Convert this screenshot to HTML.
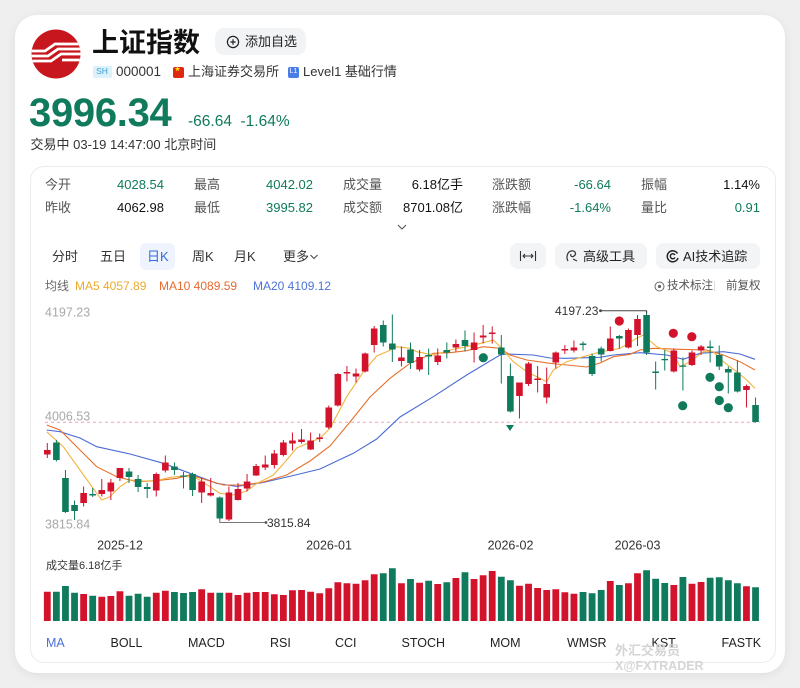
<!DOCTYPE html>
<html><head><meta charset="utf-8">
<style>
*{margin:0;padding:0;box-sizing:border-box}
html,body{width:800px;height:688px;overflow:hidden}
body{background:#efefef;font-family:"Liberation Sans","Noto Sans CJK SC",sans-serif;color:#222;position:relative}
.a{position:absolute;white-space:nowrap}
.card{position:absolute;left:15px;top:15px;width:770px;height:658px;background:#fff;border-radius:22px;box-shadow:0 2px 10px rgba(0,0,0,0.07)}
.panel{position:absolute;left:30px;top:166px;width:746px;height:497px;border:1px solid #ebebeb;border-radius:14px;background:#fff}
.lb{font-size:13px;line-height:16px;color:#555}
.v{font-size:13px;line-height:16px;text-align:right}
.g{color:#0f7a5c}
.k{color:#111}
.tab{font-size:13px;line-height:16px;color:#333;top:249px}
.btn{position:absolute;top:243px;height:26px;background:#f3f4f6;border-radius:8px}
.ind{font-size:12.5px;line-height:16px;color:#222;top:635px}
</style></head><body>
<div class="card"></div>

<!-- logo -->
<svg class="a" style="left:30.5px;top:29px" width="50" height="50" viewBox="0 0 50 50">
<defs><clipPath id="cl"><circle cx="25" cy="25" r="24.5"/></clipPath></defs>
<circle cx="25" cy="25" r="24.5" fill="#c8161e"/>
<g clip-path="url(#cl)" stroke="#fff" stroke-width="2.7" fill="none">
<path d="M0 22 H14 L24 15 H50"/>
<path d="M0 27 H17 L27 20 H50"/>
<path d="M0 32 H20 L30 25 H50"/>
<path d="M31 31 H50"/>
</g>
</svg>

<div class="a" style="left:92px;top:28px;font-size:27px;line-height:30px;font-weight:bold;color:#111">上证指数</div>
<div class="a" style="left:215px;top:28px;width:91px;height:27px;background:#f2f3f5;border-radius:9px"></div>
<svg class="a" style="left:226px;top:35px" width="14" height="14" viewBox="0 0 14 14"><circle cx="7" cy="7" r="5.6" fill="none" stroke="#222" stroke-width="1.2"/><path d="M7 4.3V9.7M4.3 7H9.7" stroke="#222" stroke-width="1.2"/></svg>
<div class="a" style="left:245px;top:34px;font-size:13px;line-height:16px;color:#222">添加自选</div>

<div class="a" style="left:92.5px;top:66px;width:19px;height:11.5px;background:#dcf1fa;border-radius:2px;font-size:8.5px;line-height:11.5px;text-align:center;color:#38a0d6">SH</div>
<div class="a" style="left:116px;top:64px;font-size:13.5px;line-height:16px;color:#333">000001</div>
<div class="a" style="left:173px;top:67px;width:10.5px;height:10.5px;background:#de2910;border-radius:2px"></div>
<div class="a" style="left:174.5px;top:67px;font-size:6px;line-height:7px;color:#ffde00">★</div>
<div class="a" style="left:188px;top:64px;font-size:13px;line-height:16px;color:#333">上海证券交易所</div>
<div class="a" style="left:288px;top:67px;width:11px;height:10.5px;background:#4a7de6;border-radius:2px;font-size:7px;line-height:10.5px;text-align:center;color:#fff">L1</div>
<div class="a" style="left:303px;top:64px;font-size:13px;line-height:16px;color:#333">Level1 基础行情</div>

<div class="a" style="left:29px;top:93px;font-size:40px;line-height:40px;font-weight:bold;color:#0f7a5c;letter-spacing:-0.3px">3996.34</div>
<div class="a" style="left:188px;top:113.5px;font-size:15.5px;line-height:16px;color:#0f7a5c">-66.64</div>
<div class="a" style="left:240.5px;top:113.5px;font-size:15.5px;line-height:16px;color:#0f7a5c">-1.64%</div>
<div class="a" style="left:30.5px;top:136.5px;font-size:13px;line-height:16px;color:#333">交易中 03-19 14:47:00 北京时间</div>

<div class="panel"></div>

<!-- stats -->
<div class="a lb" style="left:45px;top:177px">今开</div>
<div class="a v g" style="right:636px;top:177px">4028.54</div>
<div class="a lb" style="left:194px;top:177px">最高</div>
<div class="a v g" style="right:487px;top:177px">4042.02</div>
<div class="a lb" style="left:343px;top:177px">成交量</div>
<div class="a v k" style="right:337px;top:177px">6.18亿手</div>
<div class="a lb" style="left:492px;top:177px">涨跌额</div>
<div class="a v g" style="right:189px;top:177px">-66.64</div>
<div class="a lb" style="left:641px;top:177px">振幅</div>
<div class="a v k" style="right:40px;top:177px">1.14%</div>

<div class="a lb" style="left:45px;top:200px">昨收</div>
<div class="a v k" style="right:636px;top:200px">4062.98</div>
<div class="a lb" style="left:194px;top:200px">最低</div>
<div class="a v g" style="right:487px;top:200px">3995.82</div>
<div class="a lb" style="left:343px;top:200px">成交额</div>
<div class="a v k" style="right:337px;top:200px">8701.08亿</div>
<div class="a lb" style="left:492px;top:200px">涨跌幅</div>
<div class="a v g" style="right:189px;top:200px">-1.64%</div>
<div class="a lb" style="left:641px;top:200px">量比</div>
<div class="a v g" style="right:40px;top:200px">0.91</div>

<svg class="a" style="left:396px;top:223px" width="12" height="8" viewBox="0 0 12 8"><path d="M2 2L6 6L10 2" fill="none" stroke="#555" stroke-width="1.1"/></svg>

<!-- tabs -->
<div class="a" style="left:140px;top:243px;width:35px;height:27px;background:#eef3fd;border-radius:6px"></div>
<div class="a tab" style="left:52px">分时</div>
<div class="a tab" style="left:100px">五日</div>
<div class="a tab" style="left:147px;color:#2f6bd8">日K</div>
<div class="a tab" style="left:192px">周K</div>
<div class="a tab" style="left:234px">月K</div>
<div class="a tab" style="left:283px">更多</div>
<svg class="a" style="left:309px;top:253px" width="10" height="8" viewBox="0 0 10 8"><path d="M1.5 2L5 5.5L8.5 2" fill="none" stroke="#444" stroke-width="1"/></svg>

<div class="btn" style="left:510px;width:36px"></div>
<svg class="a" style="left:519px;top:250px" width="18" height="12" viewBox="0 0 18 12"><path d="M1.5 1V11M16.5 1V11M4 6H14M6 4L4 6L6 8M12 4L14 6L12 8" fill="none" stroke="#333" stroke-width="1.1"/></svg>
<div class="btn" style="left:555px;width:92px"></div>
<svg class="a" style="left:565px;top:249px" width="14" height="14" viewBox="0 0 14 14"><path d="M3 12C1 9 2 3 6 2C10 1 12 5 9 7C7 8.5 5 7 6 5M8 10L12 12" fill="none" stroke="#333" stroke-width="1.2"/></svg>
<div class="a" style="left:583px;top:249px;font-size:13px;line-height:16px;color:#222">高级工具</div>
<div class="btn" style="left:656px;width:104px"></div>
<svg class="a" style="left:666px;top:249px" width="14" height="14" viewBox="0 0 14 14"><path d="M11.5 4.5A5.5 5.5 0 1 0 12 9" fill="none" stroke="#222" stroke-width="1.5"/><path d="M9 6A2.5 2.5 0 1 0 9 8.5" fill="none" stroke="#222" stroke-width="1.4"/></svg>
<div class="a" style="left:683px;top:249px;font-size:13px;line-height:16px;color:#222">AI技术追踪</div>

<!-- legend -->
<div class="a" style="left:45px;top:278px;font-size:12px;line-height:16px;color:#666">均线</div>
<div class="a" style="left:75px;top:278px;font-size:12px;line-height:16px;color:#eeaa2e">MA5 4057.89</div>
<div class="a" style="left:159px;top:278px;font-size:12px;line-height:16px;color:#e8692e">MA10 4089.59</div>
<div class="a" style="left:253px;top:278px;font-size:12px;line-height:16px;color:#4c74d6">MA20 4109.12</div>
<svg class="a" style="left:654px;top:281px" width="11" height="11" viewBox="0 0 11 11"><circle cx="5.5" cy="5.5" r="4.5" fill="none" stroke="#666" stroke-width="1"/><circle cx="5.5" cy="5.5" r="1.6" fill="#666"/></svg>
<div class="a" style="left:667px;top:278px;font-size:11.5px;line-height:16px;color:#555">技术标注</div>
<div class="a" style="left:714px;top:281px;width:1px;height:10px;background:#ddd"></div>
<div class="a" style="left:726px;top:278px;font-size:11.5px;line-height:16px;color:#555">前复权</div>

<!-- chart -->
<svg class="a" style="left:0;top:0" width="800" height="688" viewBox="0 0 800 688">
<g font-family="Liberation Sans, sans-serif">
<text x="45" y="316.5" font-size="12.5" fill="#a8a8a8">4197.23</text>
<text x="45" y="420.5" font-size="12.5" fill="#a8a8a8">4006.53</text>
<text x="45" y="528.5" font-size="12.5" fill="#a8a8a8">3815.84</text>
</g>
<line x1="45" y1="422.3" x2="760" y2="422.3" stroke="#f0a3ab" stroke-width="1" stroke-dasharray="3 3"/>

<polyline fill="none" stroke="#4a6bd6" stroke-width="1.1" points="46.7,430 60,431.7 80,438 96.7,446.7 130,454 163.3,463.3 190,473.3 216.7,483.3 236.7,486.5 263.3,482.5 293.3,475.5 320,469 353.3,453.3 376.7,439 400,417 433.3,396.7 466.7,375 500,355 506.7,354 533.3,355 550,358 566.7,358.3 600,357.3 613.3,355 640,352.7 666.7,355 683.3,359.3 700,353.3 723.3,351.7 740,354 755,359.3"/>
<polyline fill="none" stroke="#e8702c" stroke-width="1.1" points="46.7,425 60,430 80,450 96.7,466.7 116.7,476.7 136.7,481.7 156.7,480.7 176.7,478.3 190,475 206.7,480 223.3,485 243.3,485 263.3,482 286.7,475 310,461 330,446 350,422 370,397 390,378.3 410,363.3 433.3,353.3 450,352.7 466.7,350.7 483.3,346.7 500,348.3 510,355 526.7,360 550,363.3 566.7,365 586.7,367 600,363 613.3,356.7 630,354.3 640,350 653.3,348.3 680,349.3 706.7,350 723.3,355 740,361.7 755,370"/>
<polyline fill="none" stroke="#f2b440" stroke-width="1.1" points="46.7,431.7 63.3,446.7 80,470 96.7,493.3 101.7,500 110,496.7 120,486.7 130,480 143.3,481 156.7,480.7 170,477.3 183.3,476 196.7,478.3 210,486.7 220,493.3 233.3,495 246.7,491 256,484 273.3,475 285,462 296.7,448 313,441 320,438.3 330,428.3 346.7,396.7 363.3,372 376.7,356 386.7,351.7 396.7,346.7 410,348.3 416.7,351.7 433.3,355 450,350 466.7,346.7 483.3,342.7 493.3,340 501.7,348.3 513.3,361.7 526.7,371.7 536.7,376.7 546.7,381.7 553.3,370 566.7,361.7 583.3,356.7 600,352 620,348.3 636.7,338.3 643.3,335 656.7,346.7 673.3,353.3 680,366.7 690,361.7 703.3,351.7 713.3,351.7 723.3,361.7 736.7,371.7 746.7,380 755,388.3"/>

<!-- red candles -->
<path stroke="#d3122c" stroke-width="1" fill="none" d="M47.3 443V458M83.62 486.5V506.5M101.78 479V496.5M110.86 479V500M119.94 468V481M156.26 472.5V496.5M165.34 455.5V472.5M201.66 478V503M210.74 478V496.5M228.9 486.5V521M237.98 483V500.5M247.06 474V491.5M256.14 464V476M265.22 455.5V470M274.3 450V468.5M283.38 440V456.5M292.46 432.5V450.5M301.54 429V443.5M310.62 432.5V450M319.7 433.5V442M328.78 405.5V429M337.86 373V406.5M346.94 366V381.5M356.02 368.5V382.5M365.1 352.5V372.5M374.18 326V352.5M401.42 346.5V366.5M419.58 350V371.5M437.74 348.5V365M455.9 339.5V351.5M474.06 332.5V362.5M483.14 325V343.5M492.22 326.5V343.5M519.46 382.5V418.5M528.54 362V386M537.62 366V392.5M546.7 367.5V403.5M555.78 351.5V368.5M564.86 345V354M573.94 340.5V352.5M610.26 326.5V351.5M628.42 328.5V348.5M637.5 315V346M673.82 348.5V372.5M691.98 350.5V366M701.06 345V355M746.46 384.5V407.5"/>
<path fill="#d3122c" d="M44 450h6.6v4.5h-6.6zM80.32 493h6.6v10h-6.6zM98.48 490h6.6v4h-6.6zM107.56 482.5h6.6v9h-6.6zM116.64 468h6.6v10h-6.6zM152.96 474h6.6v16.5h-6.6zM162.04 462.5h6.6v8h-6.6zM198.36 481.5h6.6v11h-6.6zM207.44 493h6.6v2.5h-6.6zM225.6 492.5h6.6v27h-6.6zM234.68 489h6.6v11h-6.6zM243.76 481.5h6.6v7h-6.6zM252.84 466h6.6v9.5h-6.6zM261.92 464.5h6.6v3h-6.6zM271 453.5h6.6v11.5h-6.6zM280.08 442.5h6.6v12.5h-6.6zM289.16 440.5h6.6v3h-6.6zM298.24 439.5h6.6v2.5h-6.6zM307.32 440.5h6.6v9h-6.6zM316.4 437.5h6.6v1.5h-6.6zM325.48 407.5h6.6v20h-6.6zM334.56 374h6.6v31.5h-6.6zM343.64 372h6.6v1.5h-6.6zM352.72 373.5h6.6v3h-6.6zM361.8 353.5h6.6v18h-6.6zM370.88 328.5h6.6v16.5h-6.6zM398.12 357.5h6.6v3.5h-6.6zM416.28 357h6.6v12.5h-6.6zM434.44 355.5h6.6v6.5h-6.6zM452.6 344h6.6v3.5h-6.6zM470.76 342.5h6.6v7.5h-6.6zM479.84 335.5h6.6v2h-6.6zM488.92 332.5h6.6v1.5h-6.6zM516.16 382.5h6.6v13.5h-6.6zM525.24 363.5h6.6v20.5h-6.6zM534.32 378.5h6.6v1.5h-6.6zM543.4 384h6.6v13.5h-6.6zM552.48 352.5h6.6v10h-6.6zM561.56 349h6.6v1.5h-6.6zM570.64 347.5h6.6v3h-6.6zM606.96 338.5h6.6v12.5h-6.6zM625.12 330h6.6v17.5h-6.6zM634.2 319h6.6v16h-6.6zM670.52 350.5h6.6v21h-6.6zM688.68 352.5h6.6v12.5h-6.6zM697.76 346.5h6.6v4h-6.6zM743.16 386h6.6v4h-6.6z"/>
<!-- green candles -->
<path stroke="#0f7a5c" stroke-width="1" fill="none" d="M56.38 440V461.5M65.46 470V513M74.54 500.5V520M92.7 488V497M129.02 468V483M138.1 475V492M147.18 483V498M174.42 462.5V475M183.5 472V488.5M192.58 472.5V496M219.82 496.5V520.5M383.26 320.5V346.5M392.34 314.5V362M410.5 342.5V369M428.66 348.5V375M446.82 342.5V358.5M464.98 330.5V351.5M501.3 335V383.5M510.38 363.5V412.5M583.02 341.5V350.5M592.1 353.5V376M601.18 346.5V361.5M619.34 335V348.5M646.58 311V355M655.66 361.5V389.5M664.74 350V370.5M682.9 357.5V390.5M710.14 340.5V362.5M719.22 345.5V370M728.3 366.5V393.5M737.38 360.5V392.5M755.54 397.5V422.5"/>
<path fill="#0f7a5c" d="M53.08 442.5h6.6v17.5h-6.6zM62.16 478h6.6v34h-6.6zM71.24 505h6.6v6h-6.6zM89.4 494h6.6v1.5h-6.6zM125.72 471.5h6.6v5.5h-6.6zM134.8 479h6.6v8h-6.6zM143.88 487h6.6v2h-6.6zM171.12 466.5h6.6v3.5h-6.6zM180.2 475.5h6.6v1.2h-6.6zM189.28 474h6.6v16h-6.6zM216.52 497.5h6.6v21h-6.6zM379.96 325h6.6v17.5h-6.6zM389.04 343.5h6.6v6h-6.6zM407.2 349.5h6.6v13.5h-6.6zM425.36 355h6.6v1.5h-6.6zM443.52 350h6.6v2.5h-6.6zM461.68 340h6.6v6h-6.6zM498 347.5h6.6v7h-6.6zM507.08 376h6.6v35.5h-6.6zM579.72 343.5h6.6v1.5h-6.6zM588.8 356h6.6v18h-6.6zM597.88 348.5h6.6v6h-6.6zM616.04 336h6.6v2.5h-6.6zM643.28 315h6.6v37.5h-6.6zM652.36 371.5h6.6v1.5h-6.6zM661.44 359h6.6v1.2h-6.6zM679.6 365.5h6.6v1.2h-6.6zM706.84 346.5h6.6v1.5h-6.6zM715.92 355h6.6v11.5h-6.6zM725 369h6.6v3.5h-6.6zM734.08 372.5h6.6v19h-6.6zM752.24 405h6.6v17h-6.6z"/>

<!-- signal dots -->
<g fill="#d3122c"><circle cx="619.3" cy="321" r="4.6"/><circle cx="673.3" cy="333.3" r="4.6"/><circle cx="691.8" cy="336.7" r="4.6"/></g>
<g fill="#0f7a5c"><circle cx="483.3" cy="357.7" r="4.6"/><circle cx="682.7" cy="405.7" r="4.6"/><circle cx="710" cy="377.3" r="4.6"/><circle cx="719.3" cy="386.7" r="4.6"/><circle cx="719.3" cy="400.5" r="4.6"/><circle cx="728.3" cy="407.7" r="4.6"/></g>
<path d="M506 425H514L510 431Z" fill="#0f7a5c"/>

<!-- high/low annotations -->
<path d="M600.5 310.7H646.6V313.5" fill="none" stroke="#444" stroke-width="1"/>
<circle cx="600.5" cy="310.7" r="1.4" fill="#444"/>
<text x="555" y="315" font-size="12" fill="#333" font-family="Liberation Sans, sans-serif">4197.23</text>
<path d="M219.8 518V522.5H266" fill="none" stroke="#777" stroke-width="1"/>
<circle cx="266" cy="522.5" r="1.4" fill="#555"/>
<text x="267" y="526.8" font-size="12" fill="#333" font-family="Liberation Sans, sans-serif">3815.84</text>

<!-- date axis -->
<g font-family="Liberation Sans, sans-serif" font-size="12.5" fill="#333" text-anchor="middle">
<text x="120" y="549.5">2025-12</text>
<text x="329" y="549.5">2026-01</text>
<text x="510.5" y="549.5">2026-02</text>
<text x="637.5" y="549.5">2026-03</text>
</g>

<!-- volume -->
<path fill="#d3122c" d="M43.9 591.7h6.8V621h-6.8zM80.22 594h6.8V621h-6.8zM98.38 596.7h6.8V621h-6.8zM107.46 596h6.8V621h-6.8zM116.54 591.3h6.8V621h-6.8zM152.86 592.7h6.8V621h-6.8zM161.94 590.7h6.8V621h-6.8zM198.26 589.3h6.8V621h-6.8zM207.34 592.7h6.8V621h-6.8zM225.5 592.7h6.8V621h-6.8zM234.58 595h6.8V621h-6.8zM243.66 592.7h6.8V621h-6.8zM252.74 592h6.8V621h-6.8zM261.82 592h6.8V621h-6.8zM270.9 594.3h6.8V621h-6.8zM279.98 595h6.8V621h-6.8zM289.06 590.3h6.8V621h-6.8zM298.14 590h6.8V621h-6.8zM307.22 591.7h6.8V621h-6.8zM316.3 593.3h6.8V621h-6.8zM325.38 588.3h6.8V621h-6.8zM334.46 582.3h6.8V621h-6.8zM343.54 583.3h6.8V621h-6.8zM352.62 583.7h6.8V621h-6.8zM361.7 580.3h6.8V621h-6.8zM370.78 574.3h6.8V621h-6.8zM398.02 583.3h6.8V621h-6.8zM416.18 582.7h6.8V621h-6.8zM434.34 584h6.8V621h-6.8zM452.5 578h6.8V621h-6.8zM470.66 579h6.8V621h-6.8zM479.74 575.3h6.8V621h-6.8zM488.82 571h6.8V621h-6.8zM516.06 585.7h6.8V621h-6.8zM525.14 583.7h6.8V621h-6.8zM534.22 588h6.8V621h-6.8zM543.3 590h6.8V621h-6.8zM552.38 589.3h6.8V621h-6.8zM561.46 592.3h6.8V621h-6.8zM570.54 593.7h6.8V621h-6.8zM606.86 581h6.8V621h-6.8zM625.02 583.3h6.8V621h-6.8zM634.1 573.3h6.8V621h-6.8zM670.42 585h6.8V621h-6.8zM688.58 583.7h6.8V621h-6.8zM697.66 582h6.8V621h-6.8zM743.06 586.3h6.8V621h-6.8z"/>
<path fill="#0f7a5c" d="M52.98 591.7h6.8V621h-6.8zM62.06 586h6.8V621h-6.8zM71.14 592.7h6.8V621h-6.8zM89.3 595.7h6.8V621h-6.8zM125.62 595.7h6.8V621h-6.8zM134.7 593.7h6.8V621h-6.8zM143.78 596.7h6.8V621h-6.8zM171.02 592h6.8V621h-6.8zM180.1 593h6.8V621h-6.8zM189.18 592h6.8V621h-6.8zM216.42 592.7h6.8V621h-6.8zM379.86 573.3h6.8V621h-6.8zM388.94 568.3h6.8V621h-6.8zM407.1 579h6.8V621h-6.8zM425.26 580.7h6.8V621h-6.8zM443.42 582.3h6.8V621h-6.8zM461.58 572.3h6.8V621h-6.8zM497.9 576.7h6.8V621h-6.8zM506.98 580.3h6.8V621h-6.8zM579.62 592h6.8V621h-6.8zM588.7 593.3h6.8V621h-6.8zM597.78 590h6.8V621h-6.8zM615.94 585h6.8V621h-6.8zM643.18 570.3h6.8V621h-6.8zM652.26 578.7h6.8V621h-6.8zM661.34 583h6.8V621h-6.8zM679.5 577h6.8V621h-6.8zM706.74 577.7h6.8V621h-6.8zM715.82 577.3h6.8V621h-6.8zM724.9 580.3h6.8V621h-6.8zM733.98 583.3h6.8V621h-6.8zM752.14 587.3h6.8V621h-6.8z"/>
</svg>

<div class="a" style="left:46px;top:558px;font-size:11px;line-height:16px;color:#333">成交量6.18亿手</div>

<!-- indicators -->
<div class="a ind" style="left:46px;color:#4a6fd8">MA</div>
<div class="a ind" style="left:110.5px">BOLL</div>
<div class="a ind" style="left:188px">MACD</div>
<div class="a ind" style="left:270px">RSI</div>
<div class="a ind" style="left:335px">CCI</div>
<div class="a ind" style="left:401.5px">STOCH</div>
<div class="a ind" style="left:490px">MOM</div>
<div class="a ind" style="left:567px">WMSR</div>
<div class="a ind" style="left:651.5px">KST</div>
<div class="a ind" style="left:721.5px">FASTK</div>

<!-- watermark -->
<div class="a" style="left:615px;top:643px;font-size:13px;line-height:16px;color:#d4d4d4;font-weight:bold">外汇交易员</div>
<div class="a" style="left:615px;top:658px;font-size:12.5px;line-height:16px;color:#d6d6d6;font-weight:bold">X@FXTRADER</div>
</body></html>
